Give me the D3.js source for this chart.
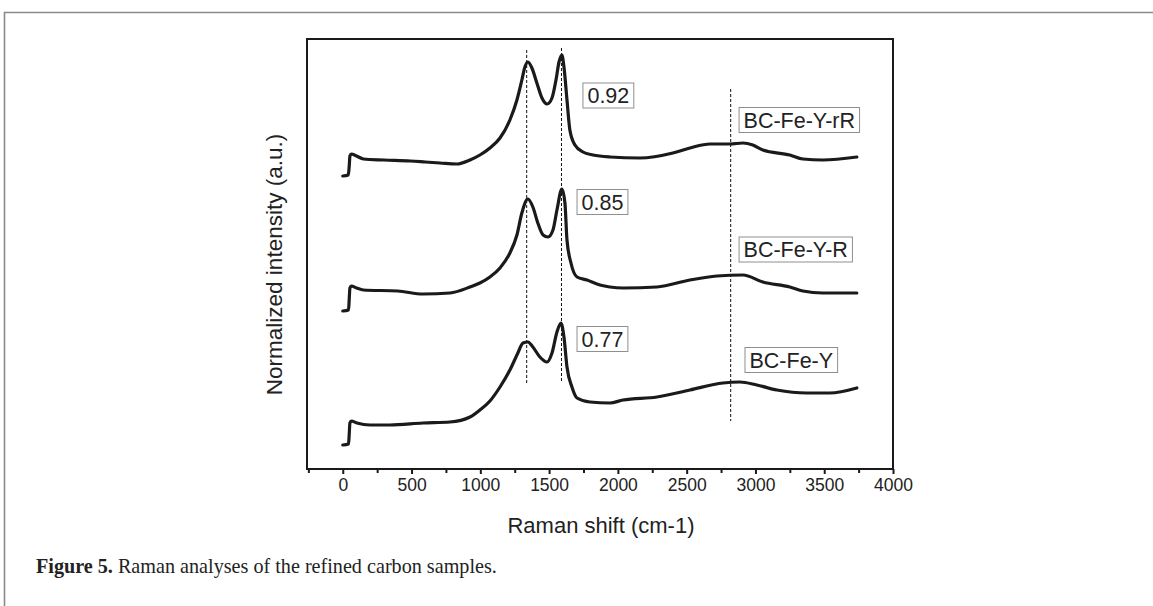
<!DOCTYPE html>
<html>
<head>
<meta charset="utf-8">
<script src="https://d3js.org/d3.v7.min.js"></script>
<style>
  html, body { margin: 0; padding: 0; background: #fff; }
  svg { display: block; }
</style>
</head>
<body>
<svg id="chart" width="1153" height="606"></svg>
<script>
// ---------- DATA ----------
// Raman shift (cm-1), normalized intensity (arbitrary units, stacked)
const shiftRR = [0,40,47,52,62,100,150,300,490,600,707,830,925,997,1070,1143,1215,1266,1302,1324,1346,1375,1411,1448,1485,1521,1550,1572,1593,1608,1630,1651,1688,1746,1819,1942,2160,2400,2524,2669,2815,2909,2981,3054,3250,3345,3490,3737];
const intensityRR = [293,294,303,313,315,313,310,309,308,307,306,305,309,314,321,331,349,369,389,402,407,401,386,371,365,371,389,407,414,402,369,339,324,317,314,312,311,316,321,325,325,326,324,319,314,310,309,312];

const shiftR = [0,42,47,52,62,100,150,400,583,779,925,997,1070,1143,1215,1266,1302,1346,1382,1418,1456,1492,1528,1557,1593,1615,1630,1659,1703,1775,1870,1942,2037,2284,2524,2720,2909,3054,3250,3345,3490,3737];
const intensityR = [158,159,170,181,183,181,179,178,175,176,182,186,192,201,216,234,256,270,262,246,234,232,239,259,280,266,229,206,192,189,184,182,181,182,189,193,194,187,182,178,176,176];

const shiftY = [0,42,47,52,62,103,198,343,583,779,925,997,1070,1143,1215,1273,1310,1346,1382,1433,1485,1521,1557,1586,1608,1630,1666,1703,1797,1942,2037,2284,2524,2764,2887,3010,3156,3374,3541,3737];
const intensityY = [24,25,35,46,48,46,44,44,46,47,52,59,68,82,99,116,126,127,122,112,107,116,137,146,132,102,82,71,67,66,69,72,79,86,87,84,79,76,76,81];

const seriesNames = ["BC-Fe-Y-rR", "BC-Fe-Y-R", "BC-Fe-Y"];

// Reference lines (D band, G band, 2D band)
const refShift = [1337, 1590, 2820];
const refTop = [419, 421, 380];
const refBottom = [86, 86, 48];

// Annotation boxes: text, left shift, centre intensity
const noteText = ["0.92", "BC-Fe-Y-rR", "0.85", "BC-Fe-Y-R", "0.77", "BC-Fe-Y"];
const noteShift = [1746, 2881, 1703, 2881, 1703, 2924];
const noteLevel = [373.5, 349, 267, 219.5, 130, 109];

const xMajorTicks = [0, 500, 1000, 1500, 2000, 2500, 3000, 3500, 4000];
const xMinorTicks = [-250, 250, 750, 1250, 1750, 2250, 2750, 3250, 3750];

const xTitle = "Raman shift (cm-1)";
const yTitle = "Normalized intensity (a.u.)";
const captionBold = "Figure 5.";
const captionRest = " Raman analyses of the refined carbon samples.";

// ---------- LAYOUT ----------
const svg = d3.select("#chart");
const frame = { left: 307, right: 893, top: 39, bottom: 469 };

const x = d3.scaleLinear().domain([-260, 4000]).range([frame.left, frame.right]);
const y = d3.scaleLinear().domain([0, 430]).range([frame.bottom, frame.top]);

// page border (journal layout)
svg.append("path")
  .attr("d", `M4.5,606 L4.5,12.5 L1153,12.5`)
  .attr("fill", "none").attr("stroke", "#8a8a8a").attr("stroke-width", 1.6);

// dashed reference lines
svg.append("g").selectAll("line").data(refShift).join("line")
  .attr("x1", d => x(d)).attr("x2", d => x(d))
  .attr("y1", (d, i) => y(refTop[i])).attr("y2", (d, i) => y(refBottom[i]))
  .attr("stroke", "#111").attr("stroke-width", 1).attr("stroke-dasharray", "3,2");

// curves
const line = d3.line().x(d => x(d[0])).y(d => y(d[1])).curve(d3.curveMonotoneX);
const series = [
  d3.zip(shiftRR, intensityRR),
  d3.zip(shiftR, intensityR),
  d3.zip(shiftY, intensityY)
];
svg.append("g").selectAll("path").data(series).join("path")
  .attr("d", line)
  .attr("fill", "none").attr("stroke", "#1a1a1a")
  .attr("stroke-width", 3.2).attr("stroke-linejoin", "round").attr("stroke-linecap", "round");

// frame
svg.append("rect")
  .attr("x", frame.left).attr("y", frame.top)
  .attr("width", frame.right - frame.left).attr("height", frame.bottom - frame.top)
  .attr("fill", "none").attr("stroke", "#1a1a1a").attr("stroke-width", 2);

// x axis
const xAxis = d3.axisBottom(x).tickValues(xMajorTicks).tickSize(5).tickPadding(5).tickFormat(d3.format("d"));
const gx = svg.append("g").attr("transform", `translate(0,${frame.bottom})`).call(xAxis);
gx.select(".domain").remove();
gx.selectAll(".tick line").attr("stroke", "#1a1a1a").attr("stroke-width", 2);
gx.selectAll(".tick text")
  .attr("font-family", "Liberation Sans, Arial, sans-serif")
  .attr("font-size", 17.5).attr("fill", "#222").attr("dy", "0.71em");

const xMinor = d3.axisBottom(x).tickValues(xMinorTicks).tickSize(4).tickFormat("");
const gxm = svg.append("g").attr("transform", `translate(0,${frame.bottom})`).call(xMinor);
gxm.select(".domain").remove();
gxm.selectAll(".tick line").attr("stroke", "#1a1a1a").attr("stroke-width", 2);

// axis titles
svg.append("text")
  .attr("x", (frame.left + frame.right) / 2 + 1).attr("y", 532.5)
  .attr("text-anchor", "middle")
  .attr("font-family", "Liberation Sans, Arial, sans-serif")
  .attr("font-size", 22).attr("fill", "#222")
  .text(xTitle);

svg.append("text")
  .attr("transform", `translate(282,264.5) rotate(-90)`)
  .attr("text-anchor", "middle")
  .attr("font-family", "Liberation Sans, Arial, sans-serif")
  .attr("font-size", 22.5).attr("fill", "#222")
  .text(yTitle);

// annotation boxes
const notes = svg.append("g").selectAll("g").data(noteText).join("g");
notes.each(function (t, i) {
  const g = d3.select(this);
  const padX = 4.5;
  const txt = g.append("text")
    .attr("x", x(noteShift[i]) + padX)
    .attr("y", y(noteLevel[i]))
    .attr("dy", "0.36em")
    .attr("font-family", "Liberation Sans, Arial, sans-serif")
    .attr("font-size", 21.5).attr("fill", "#222")
    .text(t);
  const bb = txt.node().getBBox();
  g.insert("rect", "text")
    .attr("x", bb.x - padX).attr("y", y(noteLevel[i]) - 12.5)
    .attr("width", bb.width + 2 * padX).attr("height", 25)
    .attr("fill", "#fff").attr("stroke", "#8f8f8f").attr("stroke-width", 1);
});

// caption (font size scaled so the line spans the same width as the reference)
const cap = svg.append("text")
  .attr("x", 36).attr("y", 573)
  .attr("font-family", "Liberation Serif, 'Times New Roman', serif")
  .attr("font-size", 18).attr("fill", "#222");
cap.append("tspan").attr("font-weight", "bold").text(captionBold);
cap.append("tspan").text(captionRest);
const capW = cap.node().getComputedTextLength();
if (capW > 0) {
  const fs = Math.min(21, 18 * 461 / capW);
  cap.attr("font-size", fs);
}
</script>
</body>
</html>
